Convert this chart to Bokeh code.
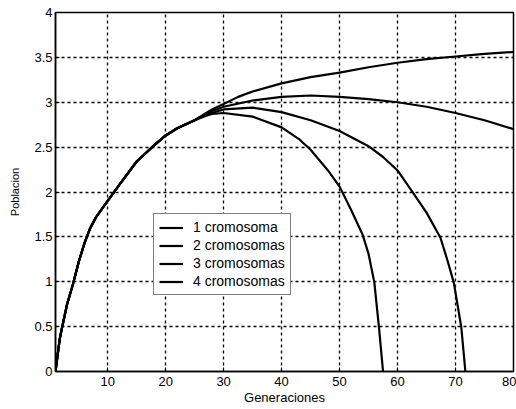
from bokeh.plotting import figure
from bokeh.models import Range1d, FixedTicker, Legend, LegendItem
from bokeh.embed import file_html
from bokeh.resources import INLINE

# ---- data ----
gen_common = [1, 1.7, 2, 3, 4, 5, 6, 7, 8, 10, 12, 15, 18, 20, 22, 25]
pob_common = [0, 0.35, 0.45, 0.75, 0.97, 1.22, 1.43, 1.6, 1.72, 1.9, 2.08, 2.34, 2.52, 2.63, 2.71, 2.8]

gen_1 = [27, 28, 30, 32.5, 35, 40, 45, 50, 55, 60, 65, 70, 75, 80]
pob_1 = [2.88, 2.92, 2.98, 3.06, 3.12, 3.21, 3.28, 3.33, 3.39, 3.44, 3.48, 3.51, 3.54, 3.56]

gen_2 = [27, 28, 30, 35, 40, 45, 50, 55, 60, 65, 70, 75, 80]
pob_2 = [2.87, 2.9, 2.95, 3.02, 3.06, 3.075, 3.06, 3.035, 3.0, 2.95, 2.88, 2.8, 2.7]

gen_3 = [27, 28, 30, 35, 40, 45, 50, 55, 57.5, 60, 62.8, 65, 67.4, 68.6, 69.7, 70.3, 71, 71.7]
pob_3 = [2.86, 2.88, 2.92, 2.94, 2.89, 2.8, 2.68, 2.51, 2.39, 2.24, 1.98, 1.77, 1.49, 1.24, 0.99, 0.76, 0.49, 0]

gen_4 = [27, 28, 30, 35, 40, 43, 45, 48, 50, 52, 54, 55, 56, 56.8, 57.5]
pob_4 = [2.85, 2.87, 2.88, 2.84, 2.72, 2.59, 2.47, 2.24, 2.06, 1.8, 1.52, 1.31, 0.99, 0.49, 0]

series_labels = ["1 cromosoma", "2 cromosomas", "3 cromosomas", "4 cromosomas"]

x_ticks = [10, 20, 30, 40, 50, 60, 70, 80]
y_ticks = [0, 0.5, 1, 1.5, 2, 2.5, 3, 3.5, 4]
y_tick_labels = ["0", "0.5", "1", "1.5", "2", "2.5", "3", "3.5", "4"]

FONT = "Liberation Sans"

p = figure(width=516, height=409, output_backend="svg", toolbar_location=None,
           x_range=Range1d(1, 80), y_range=Range1d(0, 4),
           min_border_left=55, min_border_top=12, min_border_right=3, min_border_bottom=38)

p.background_fill_color = "white"
p.border_fill_color = "white"
p.outline_line_color = "black"
p.outline_line_width = 1.5

for ax in (p.xaxis[0], p.yaxis[0]):
    ax.axis_line_color = "black"
    ax.axis_line_width = 1.5
    ax.major_tick_in = 4
    ax.major_tick_out = 0
    ax.minor_tick_line_color = None
    ax.major_tick_line_color = "black"
    ax.major_label_text_font = FONT
    ax.major_label_text_font_size = "13px"
    ax.major_label_text_color = "black"
    ax.axis_label_text_font = FONT
    ax.axis_label_text_font_style = "normal"
    ax.axis_label_text_color = "black"

p.xaxis.ticker = FixedTicker(ticks=x_ticks)
p.yaxis.ticker = FixedTicker(ticks=y_ticks)
p.yaxis.major_label_overrides = {float(t): lab for t, lab in zip(y_ticks, y_tick_labels)}
p.xaxis.axis_label = "Generaciones"
p.yaxis.axis_label = "Poblacion"
p.xaxis.axis_label_text_font_size = "13px"
p.yaxis.axis_label_text_font_size = "11px"
p.xaxis.major_label_standoff = 5
p.yaxis.major_label_standoff = 3
p.xaxis.axis_label_standoff = 1
p.yaxis.axis_label_standoff = 10

for g in (p.xgrid[0], p.ygrid[0]):
    g.grid_line_color = "black"
    g.grid_line_dash = "3 3"
    g.grid_line_width = 1.3

renderers = []
for gx, gy in ((gen_1, pob_1), (gen_2, pob_2), (gen_3, pob_3), (gen_4, pob_4)):
    r = p.line(gen_common + gx, pob_common + gy, line_color="black", line_width=2.2,
               line_join="round")
    renderers.append(r)

legend = Legend(items=[LegendItem(label=lab, renderers=[r]) for lab, r in zip(series_labels, renderers)],
                location=(98, 76))
legend.border_line_color = "black"
legend.border_line_width = 1.5
legend.background_fill_alpha = 1
legend.label_text_font = FONT
legend.label_text_font_size = "14px"
legend.label_text_color = "black"
legend.glyph_width = 24
legend.glyph_height = 15
legend.label_height = 15
legend.label_standoff = 10
legend.spacing = 2
legend.padding = 5
legend.margin = 0
p.add_layout(legend, "center")

open("out.html", "w").write(file_html(p, INLINE))
